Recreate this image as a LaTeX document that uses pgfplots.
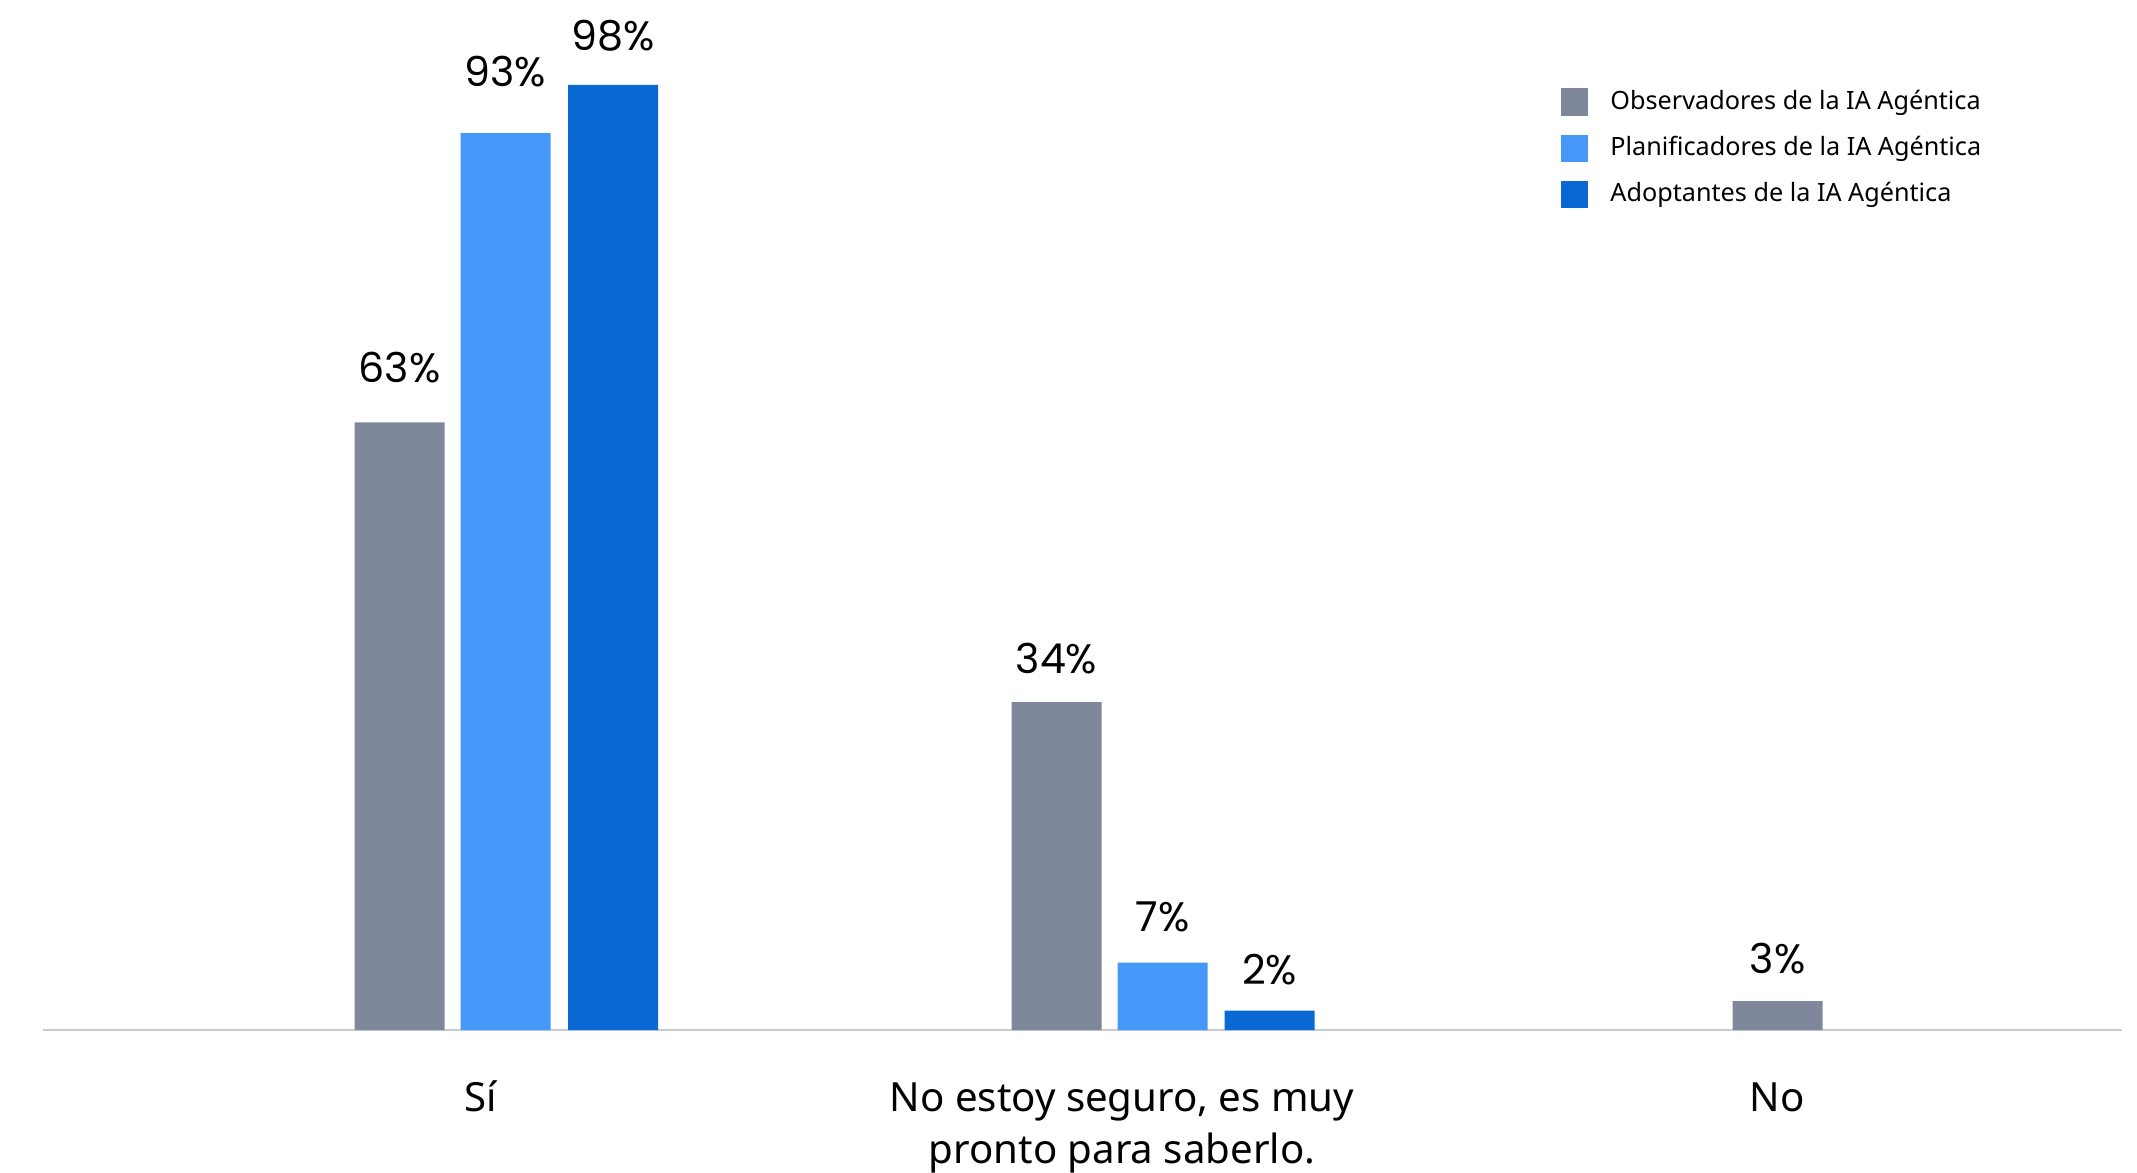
\documentclass[border=0pt]{standalone}
\usepackage{pgfplots}
\pgfplotsset{compat=1.18}
\usepackage{fontspec}
\setmainfont{Noto Sans}
\newfontfamily\valfont{Poppins}
\definecolor{obs}{HTML}{7F889B}
\definecolor{plan}{HTML}{4598F8}
\definecolor{adop}{HTML}{0A68D4}
\definecolor{axisline}{HTML}{C5CCD6}
\begin{document}
\begin{tikzpicture}
\begin{axis}[
  at={(0,0)}, anchor=south west,
  width=519.75pt, height=257.5pt, scale only axis,
  xmin=43, xmax=2122, ymin=0, ymax=106.8,
  hide y axis,
  axis x line*=bottom,
  x axis line style={axisline, line width=0.5pt},
  xtick={481,1122,1777},
  xticklabels={S\'{\i}, {\begin{tabular}[t]{@{}c@{}}No estoy seguro, es muy\\pronto para saberlo.\end{tabular}}, No},
  xticklabel style={anchor=base, yshift=-20.3pt, inner sep=0pt,
    font=\fontsize{10.05}{13}\selectfont, text=black},
  major tick length=0pt,
  ytick=\empty,
  clip=false,
  legend style={at={(0.7297,0.915)}, anchor=north west, draw=none, fill=none,
    inner sep=0pt, row sep=4.65pt, font=\fontsize{6.3}{7.5}\selectfont,
    nodes={inner sep=0pt, text height=5pt, text depth=1.5pt},
    /tikz/every odd column/.append style={column sep=5.5pt}},
  legend cell align=left,
  every node near coord/.append style={font=\valfont\fontsize{10.3}{12}\selectfont,
    anchor=base, inner sep=0pt, text=black},
  nodes near coords={\pgfmathprintnumber[assume math mode=true]{\pgfplotspointmeta}\%},
  visualization depends on={\thisrow{s} \as \ys},
  every node near coord/.append style={yshift=\ys pt},
]
\addlegendimage{legend image code/.code={\fill[obs] (0pt,-3.25pt) rectangle (6.5pt,3.25pt);}}
\addlegendentry{Observadores de la IA Agéntica}
\addlegendimage{legend image code/.code={\fill[plan] (0pt,-3.25pt) rectangle (6.5pt,3.25pt);}}
\addlegendentry{Planificadores de la IA Agéntica}
\addlegendimage{legend image code/.code={\fill[adop] (0pt,-3.25pt) rectangle (6.5pt,3.25pt);}}
\addlegendentry{Adoptantes de la IA Agéntica}
\addplot[ybar, bar width=22.5pt, bar shift=0pt, fill=obs, draw=none, forget plot]
  table {
x y s
399.5 63 9.86
1056.5 34 7.14
1777.5 3 6.8
};
\addplot[ybar, bar width=22.5pt, bar shift=0pt, fill=plan, draw=none, forget plot]
  table {
x y s
505.5 93 11.57
1162.5 7 7.82
};
\addplot[ybar, bar width=22.5pt, bar shift=0pt, fill=adop, draw=none, forget plot]
  table {
x y s
613 98 8.5
1269.5 2 6.46
};
\end{axis}
\pgfresetboundingbox
\path[use as bounding box] (-10.75pt,-35.5pt) rectangle (523.5pt,257.5pt);
\end{tikzpicture}
\end{document}
